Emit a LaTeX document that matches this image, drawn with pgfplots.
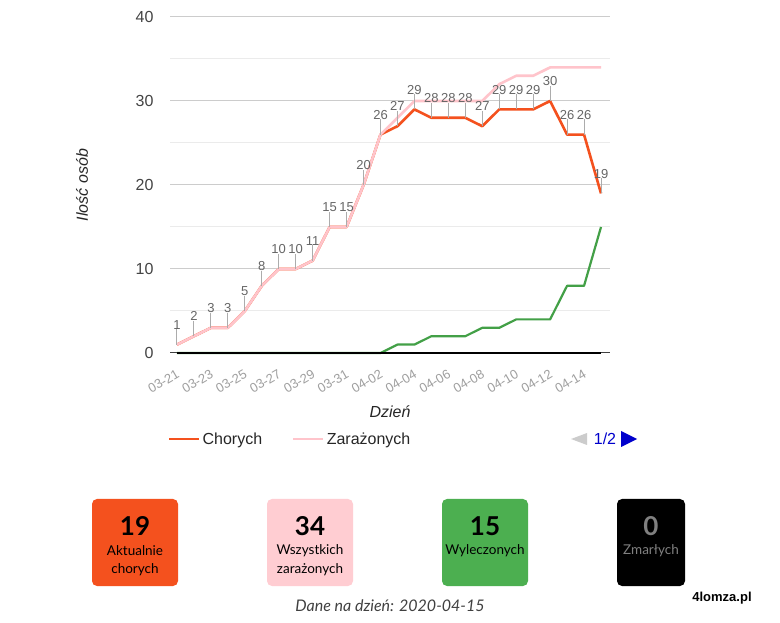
\documentclass[border=0pt]{standalone}
\usepackage{pgfplots}
\usepackage{pgfplotstable}
\pgfplotsset{compat=1.18}
\usepackage{fontspec}
\setmainfont{Liberation Sans}
\newfontfamily\lato{Lato}
\newcommand\fs[1]{\fontsize{#1}{#1}\selectfont}

\definecolor{cred}{HTML}{F4511E}
\definecolor{cpink}{HTML}{FFC4CB}
\definecolor{cgreen}{HTML}{43A047}
\definecolor{boxpink}{HTML}{FFCDD2}
\definecolor{boxgreen}{HTML}{4CAF50}
\definecolor{gridc}{HTML}{CCCCCC}
\definecolor{minorc}{HTML}{EBEBEB}
\definecolor{tickc}{HTML}{444444}

% day 0 = 03-21
\pgfplotstableread{
d chor zar wyl zm
0  1  1  0 0
1  2  2  0 0
2  3  3  0 0
3  3  3  0 0
4  5  5  0 0
5  8  8  0 0
6  10 10 0 0
7  10 10 0 0
8  11 11 0 0
9  15 15 0 0
10 15 15 0 0
11 20 20 0 0
12 26 26 0 0
13 27 28 1 0
14 29 30 1 0
15 28 30 2 0
16 28 30 2 0
17 28 30 2 0
18 27 30 3 0
19 29 32 3 0
20 29 33 4 0
21 29 33 4 0
22 30 34 4 0
23 26 34 8 0
24 26 34 8 0
25 19 34 15 0
}\covid

\begin{document}
\begin{tikzpicture}[x=1pt,y=1pt]
\path[fill=white] (0,0) rectangle (780,622);

\begin{axis}[
  at={(170pt,269pt)}, anchor=south west,
  scale only axis, width=440pt, height=336pt,
  xmin=-0.41, xmax=25.53, ymin=0, ymax=40,
  clip=false,
  axis line style={draw=none},
  tick style={draw=none},
  /pgf/number format/assume math mode=true,
  ytick={0,10,20,30,40},
  minor y tick num=1,
  ymajorgrids, yminorgrids,
  major grid style={color=gridc, line width=1pt},
  minor grid style={color=minorc, line width=1pt},
  yticklabel style={font=\fs{16}, text=tickc, xshift=-13pt},
  xtick={0,2,...,24},
  xticklabels={03-21,03-23,03-25,03-27,03-29,03-31,04-02,04-04,04-06,04-08,04-10,04-12,04-14},
  xticklabel style={font=\fs{13}, text=gray!75, rotate=30, anchor=north east, inner sep=0pt, yshift=-13pt, xshift=-9pt},
  ylabel={Ilość osób},
  every axis y label/.style={at={(axis description cs:-0.200,0.5)}, rotate=90, anchor=center},
  ylabel style={font=\itshape\fs{16}, text=black!85},
  xlabel={Dzień},
  every axis x label/.style={at={(axis description cs:0.5,-0.176)}, anchor=center},
  xlabel style={font=\itshape\fs{16}, text=black!85},
  legend columns=-1,
  legend style={at={(-0.005,-0.256)}, anchor=west, draw=none, fill=none,
    font=\fs{16}, text=black!85, inner sep=0pt,
    /tikz/every even column/.append style={column sep=28pt}},
  legend image code/.code={\draw[#1] (0pt,0pt) -- (30pt,0pt);},
]
\draw[color=black!75, line width=1pt] (rel axis cs:0,0) -- (rel axis cs:1,0);

\addplot[cred, line width=2.6pt, line join=round] table[x=d, y=chor] {\covid};
\addlegendentry{Chorych}
\addplot[cpink, line width=2.6pt, line join=round] table[x=d, y=zar] {\covid};
\addlegendentry{Zarażonych}
\addplot[cgreen, line width=2.2pt, line join=round, forget plot] table[x=d, y=wyl] {\covid};
\addplot[black, line width=2.2pt, forget plot] table[x=d, y=zm] {\covid};

% annotations with stems
\addplot[only marks, mark=none, forget plot,
  nodes near coords,
  every node near coord/.append style={font=\fs{13}, text=black!60, anchor=south, yshift=14pt, inner sep=1pt},
  error bars/.cd, y dir=plus, y fixed=1.8, error mark=none,
  error bar style={color=gray!65, line width=1pt}]
  table[x=d, y=chor] {\covid};
\end{axis}

% legend pager
\fill[gray!40] (587,189) -- (571,183) -- (587,177) -- cycle;
\node[font=\fs{16}, text=blue!80!black, anchor=center] at (605,183) {1/2};
\fill[blue!80!black] (621,191) -- (637,183) -- (621,175) -- cycle;

% summary boxes
\fill[cred, rounded corners=5pt] (92,36) rectangle (178,123);
\fill[boxpink, rounded corners=5pt] (267,36) rectangle (353,123);
\fill[boxgreen, rounded corners=5pt] (442,36) rectangle (528,123);
\fill[black, rounded corners=5pt] (617,36) rectangle (685,123);

\begin{scope}[every node/.style={anchor=center, inner sep=0pt}]
\node[font=\lato\bfseries\fs{26}] at (135,96) {19};
\node[font=\lato\fs{13.5}] at (135,71) {Aktualnie};
\node[font=\lato\fs{13.5}] at (135,52) {chorych};
\node[font=\lato\bfseries\fs{26}] at (310,96) {34};
\node[font=\lato\fs{13.5}] at (310,71) {Wszystkich};
\node[font=\lato\fs{13.5}] at (310,52) {zarażonych};
\node[font=\lato\bfseries\fs{26}] at (485,96) {15};
\node[font=\lato\fs{13.5}] at (485,71) {Wyleczonych};
\node[font=\lato\bfseries\fs{26}, text=gray] at (651,96) {0};
\node[font=\lato\fs{13.5}, text=gray] at (651,71) {Zmarłych};
\node[font=\lato\itshape\fs{16}, text=black!75] at (390,16) {Dane na dzień: 2020-04-15};
\node[font=\bfseries\fs{13}] at (722,24) {4lomza.pl};
\end{scope}
\end{tikzpicture}
\end{document}
